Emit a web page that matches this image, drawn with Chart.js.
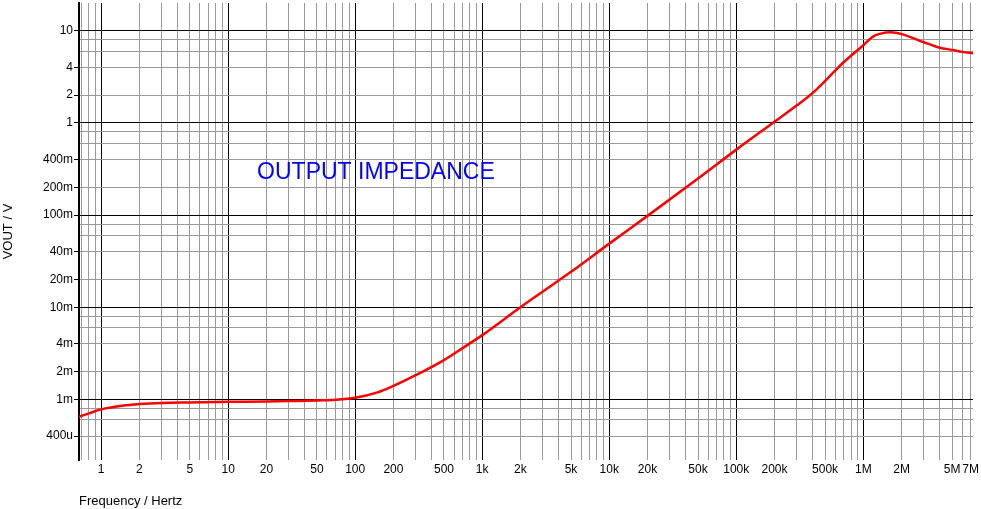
<!DOCTYPE html>
<html>
<head>
<meta charset="utf-8">
<script src="https://cdn.jsdelivr.net/npm/chart.js@4/dist/chart.umd.min.js"></script>
<style>
  html, body { margin: 0; padding: 0; background: #ffffff; }
  #wrap { width: 981px; height: 509px; }
</style>
</head>
<body>
<div id="wrap"><canvas id="c" width="981" height="509"></canvas></div>
<script>
// ---- data ----
const freqHz = [0.67, 0.8, 1, 1.5, 2, 3, 5, 10, 20, 30, 50, 70, 100, 150, 200, 300, 500, 700,
  1e3, 2e3, 5e3, 1e4, 2e4, 5e4, 1e5, 2e5, 3e5, 4e5, 5e5, 6e5, 7e5, 1e6, 1.2e6, 1.5e6, 1.65e6, 2e6, 3e6, 4e6, 5e6, 6e6, 7.3e6];
const voutV = [6.47e-4, 7.05e-4, 7.8e-4, 8.6e-4, 8.9e-4, 9.15e-4, 9.27e-4, 9.4e-4, 9.5e-4, 9.6e-4, 9.75e-4, 9.9e-4,
  1.04e-3, 1.19e-3, 1.40e-3, 1.83e-3, 2.67e-3, 3.6e-3, 4.98e-3, 1.0e-2, 2.42e-2, 4.9e-2, 9.8e-2, 0.249, 0.513, 1.03,
  1.55, 2.12, 2.85, 3.7, 4.55, 6.97, 8.7, 9.55, 9.65, 9.2, 7.5, 6.55, 6.2, 5.9, 5.7];

const xTickValues = [0.7, 0.8, 0.9,
  1, 2, 3, 4, 5, 6, 7, 8, 9,
  10, 20, 30, 40, 50, 60, 70, 80, 90,
  100, 200, 300, 400, 500, 600, 700, 800, 900,
  1e3, 2e3, 3e3, 4e3, 5e3, 6e3, 7e3, 8e3, 9e3,
  1e4, 2e4, 3e4, 4e4, 5e4, 6e4, 7e4, 8e4, 9e4,
  1e5, 2e5, 3e5, 4e5, 5e5, 6e5, 7e5, 8e5, 9e5,
  1e6, 2e6, 3e6, 4e6, 5e6, 6e6, 7e6];
const xLabelValues = [1, 2, 5, 10, 20, 50, 100, 200, 500, 1e3, 2e3, 5e3, 1e4, 2e4, 5e4, 1e5, 2e5, 5e5, 1e6, 2e6, 5e6, 7e6];
const xLabelTexts = ['1', '2', '5', '10', '20', '50', '100', '200', '500', '1k', '2k', '5k', '10k', '20k', '50k', '100k', '200k', '500k', '1M', '2M', '5M', '7M'];

const yTickValues = [4e-4, 6e-4, 8e-4,
  1e-3, 2e-3, 4e-3, 6e-3, 8e-3,
  1e-2, 2e-2, 4e-2, 6e-2, 8e-2,
  0.1, 0.2, 0.4, 0.6, 0.8,
  1, 2, 4, 6, 8, 10];
const yLabelValues = [4e-4, 1e-3, 2e-3, 4e-3, 1e-2, 2e-2, 4e-2, 0.1, 0.2, 0.4, 1, 2, 4, 10];
const yLabelTexts = ['400u', '1m', '2m', '4m', '10m', '20m', '40m', '100m', '200m', '400m', '1', '2', '4', '10'];

const xRange = [0.67, 7.3e6];
const yRange = [2.2e-4, 20];

const chartTitle = 'OUTPUT IMPEDANCE';
const titleAnchor = { x: 16.9, y: 0.248 };
const xAxisTitle = 'Frequency / Hertz';
const yAxisTitle = 'VOUT / V';

// ---- helpers ----
const same = (a, b) => Math.abs(Math.log10(a) - Math.log10(b)) < 1e-6;
const isDecade = v => Math.abs(Math.log10(v) - Math.round(Math.log10(v))) < 1e-6;
const labelFor = (vals, texts, v) => { const i = vals.findIndex(t => same(t, v)); return i >= 0 ? texts[i] : ''; };
const gridColor = ctx => (ctx.tick && isDecade(ctx.tick.value)) ? '#000000' : '#9a9a9a';
const FONT = '"Liberation Sans", Arial, sans-serif';

const titlePlugin = {
  id: 'annot',
  afterDraw(chart) {
    const { ctx, scales } = chart;
    ctx.save();
    ctx.font = '23px ' + FONT;
    ctx.fillStyle = '#0000ff';
    ctx.textBaseline = 'alphabetic';
    ctx.textAlign = 'left';
    ctx.fillText(chartTitle, scales.x.getPixelForValue(titleAnchor.x), scales.y.getPixelForValue(titleAnchor.y));
    ctx.restore();
  }
};

new Chart(document.getElementById('c'), {
  type: 'line',
  data: {
    datasets: [{
      data: freqHz.map((f, i) => ({ x: f, y: voutV[i] })),
      borderColor: '#ff0000',
      borderWidth: 2.5,
      pointRadius: 0,
      cubicInterpolationMode: 'monotone',
      fill: false
    }]
  },
  options: {
    responsive: false,
    devicePixelRatio: 1,
    animation: false,
    layout: { padding: { left: 0, right: 8, top: 3, bottom: 0 } },
    plugins: { legend: { display: false }, tooltip: { enabled: false }, title: { display: false } },
    scales: {
      x: {
        type: 'logarithmic',
        position: 'bottom',
        min: xRange[0],
        max: xRange[1],
        afterBuildTicks: s => { s.ticks = xTickValues.map(v => ({ value: v })); },
        afterFit: s => { s.height = 49; s.paddingLeft = 0; s.paddingRight = 0; s.paddingTop = 0; s.paddingBottom = 0; },
        ticks: {
          autoSkip: false,
          maxRotation: 0,
          minRotation: 0,
          padding: 2,
          color: '#000000',
          font: { family: FONT, size: 12 },
          callback: v => labelFor(xLabelValues, xLabelTexts, v)
        },
        grid: { color: gridColor, lineWidth: 1, drawTicks: false },
        border: { display: false },
        title: {
          display: true, text: xAxisTitle, align: 'start', color: '#000000',
          font: { family: FONT, size: 13 }, padding: { top: 0, bottom: 0 }
        }
      },
      y: {
        type: 'logarithmic',
        position: 'left',
        min: yRange[0],
        max: yRange[1],
        afterBuildTicks: s => { s.ticks = yTickValues.map(v => ({ value: v })); },
        afterFit: s => { s.width = 79; s.paddingTop = 0; s.paddingBottom = 0; s.paddingLeft = 0; s.paddingRight = 0; },
        ticks: {
          autoSkip: false,
          padding: 1,
          color: '#000000',
          font: { family: FONT, size: 12 },
          callback: v => labelFor(yLabelValues, yLabelTexts, v)
        },
        grid: {
          color: gridColor, lineWidth: 1, drawTicks: true, tickLength: 5,
          tickColor: ctx => (ctx.tick && labelFor(yLabelValues, yLabelTexts, ctx.tick.value)) ? '#000000' : 'rgba(0,0,0,0)'
        },
        border: { display: true, color: '#000000', width: 2 },
        title: {
          display: true, text: yAxisTitle, color: '#000000',
          font: { family: FONT, size: 13 }, padding: { top: 1, bottom: 0 }
        }
      }
    }
  },
  plugins: [titlePlugin]
});
</script>
</body>
</html>
